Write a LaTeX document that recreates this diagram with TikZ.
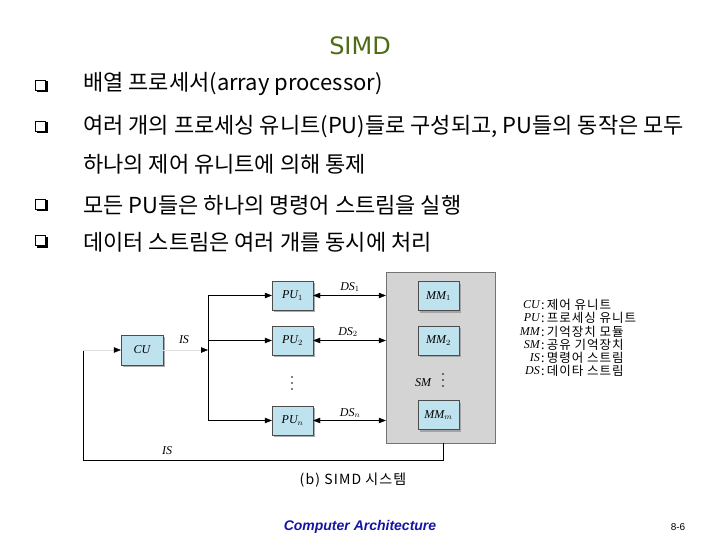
\documentclass[tikz,border=0pt]{standalone}
\usepackage{fontspec}
\setmainfont{Liberation Serif}
\newfontfamily\krfont{Noto Sans CJK KR}
\newfontfamily\krwide[LetterSpace=8]{Noto Sans CJK KR}
\newfontfamily\titlefont{DejaVu Sans}
\newfontfamily\footfont{Liberation Sans}
\usetikzlibrary{arrows.meta, shadows}

\definecolor{unitblue}{RGB}{190,227,238}
\definecolor{smgray}{RGB}{212,212,212}
\definecolor{titlegreen}{RGB}{78,108,22}
\definecolor{footblue}{RGB}{20,20,165}

\begin{document}
\begin{tikzpicture}[x=1pt, y=-1pt,
    % Define styles for reusable components
    item/.style={anchor=west, inner sep=0pt, font=\krfont\fontsize{22}{26}\selectfont},
    unit/.style={draw=black!70, fill=unitblue, minimum width=41pt, minimum height=29pt, inner sep=0pt,
        drop shadow={shadow xshift=2pt, shadow yshift=-2pt, fill=black!40, opacity=0.8},
        font=\itshape\fontsize{12}{14}\selectfont},
    smbox/.style={draw=black!55, fill=smgray, minimum width=109pt, minimum height=171pt, inner sep=0pt},
    lbl/.style={font=\itshape\fontsize{12}{14}\selectfont, inner sep=1pt},
    arr/.style={-{Triangle[length=7pt, width=5.5pt]}, thin},
    dblarr/.style={{Triangle[length=7pt, width=5.5pt]}-{Triangle[length=7pt, width=5.5pt]}, thin},
    faintarr/.style={-{Triangle[length=7pt, width=5.5pt, color=black]}, draw=black!12, thin},
    legkey/.style={anchor=east, inner sep=0pt, font=\itshape\fontsize{12}{14}\selectfont},
    legtxt/.style={anchor=west, inner sep=0pt, font=\krwide\fontsize{12.5}{14}\selectfont}
]

	\tikzset{
    	qbox/.pic={
    	    % Shadowed square bullet
    	    \draw[semithick] (-6,-6) rectangle (4.5,4.5);
    	    \fill (-4.5,4.5) rectangle (6.5,6.5);
    	    \fill (4.5,-4.5) rectangle (6.5,6.5);
    	},
    	threedots/.pic={
    	    % Vertical ellipsis
    	    \foreach \dy in {-6,0,6} \fill (0,\dy) circle (0.9);
    	}
	}

    \fill[white] (0,0) rectangle (720,540);
    \useasboundingbox (0,0) rectangle (720,540);

    % --- TITLE ---
    \node[font=\titlefont\fontsize{24}{28}\selectfont, text=titlegreen] (title) at (360,46) {SIMD};

    % --- BULLETS ---
    \path (41,86) pic {qbox};
    \node[item] (line1) at (83,84) {배열 프로세서(array processor)};
    \path (41,127) pic {qbox};
    \node[item] (line2) at (83,127) {여러 개의 프로세싱 유니트(PU)들로 구성되고, PU들의 동작은 모두};
    \node[item] (line2b) at (83,164) {하나의 제어 유니트에 의해 통제};
    \path (41,205) pic {qbox};
    \node[item] (line3) at (83,205) {모든 PU들은 하나의 명령어 스트림을 실행};
    \path (41,241) pic {qbox};
    \node[item] (line4) at (83,242) {데이터 스트림은 여러 개를 동시에 처리};

    % --- SHARED MEMORY ---
    \node[smbox] (sm) at (440.5,357.5) {};
    \node[unit] (mm1) at (438.5,296) {MM$_1$};
    \node[unit] (mm2) at (438.5,340.5) {MM$_2$};
    \node[unit] (mmm) at (438.5,415) {MM$_m$};
    \node[lbl] (smlabel) at (423,383) {SM};
    \path (443,380) pic {threedots};

    % --- CONTROL UNIT AND PUs ---
    \node[unit, minimum width=42pt, minimum height=30pt] (cu) at (142,350) {CU};
    \node[unit] (pu1) at (292.5,295.5) {PU$_1$};
    \node[unit] (pu2) at (292.5,340.5) {PU$_2$};
    \node[unit] (pun) at (292.5,420.5) {PU$_n$};
    \path (292,383) pic {threedots};

    % Instruction stream bus
    \coordinate (bustop) at (208,295.5);
    \coordinate (busmid) at (208,340.5);
    \coordinate (busbot) at (208,420.5);
    \coordinate (busin) at (208,350);
    \draw[thin] (bustop) -- (busbot);
    \draw[arr] (bustop) -- (pu1);
    \draw[arr] (busmid) -- (pu2);
    \draw[arr] (busbot) -- (pun);
    \draw[faintarr] (cu) -- (busin);
    \node[lbl] (is1) at (184,340) {IS};

    % Data streams
    \draw[dblarr] (pu1) -- (pu1 -| sm.west);
    \draw[dblarr] (pu2) -- (pu2 -| sm.west);
    \draw[dblarr] (pun) -- (pun -| sm.west);
    \node[lbl] (ds1) at (350,287) {DS$_1$};
    \node[lbl] (ds2) at (348,332) {DS$_2$};
    \node[lbl] (dsn) at (350,413) {DS$_n$};

    % Feedback from shared memory to CU
    \coordinate (fbtop) at (83,350);
    \coordinate (fbbot) at (83,460);
    \coordinate (fbend) at (443,460);
    \draw[thin] (fbtop) -- (fbbot) -- (fbend) -- (fbend |- sm.south);
    \draw[faintarr] (fbtop) -- (cu);
    \node[lbl] (is2) at (167,451) {IS};

    % Caption
    \node[font=\krwide\fontsize{14}{16}\selectfont] (caption) at (353,480) {(b) SIMD 시스템};

    % --- LEGEND ---
    \node[legkey] (kcu) at (540,305) {CU};
    \node[legtxt] (tcu) at (541,305) {:\,제어 유니트};
    \node[legkey] (kpu) at (540,318) {PU};
    \node[legtxt] (tpu) at (541,318) {:\,프로세싱 유니트};
    \node[legkey] (kmm) at (540,332) {MM};
    \node[legtxt] (tmm) at (541,332) {:\,기억장치 모듈};
    \node[legkey] (ksm) at (540,345) {SM};
    \node[legtxt] (tsm) at (541,345) {:\,공유 기억장치};
    \node[legkey] (kis) at (540,358) {IS};
    \node[legtxt] (tis) at (541,358) {:\,명령어 스트림};
    \node[legkey] (kds) at (540,371) {DS};
    \node[legtxt] (tds) at (541,371) {:\,데이타 스트림};

    % --- FOOTER ---
    \node[font=\footfont\bfseries\itshape\fontsize{14}{16}\selectfont, text=footblue] (foot) at (360,527) {Computer Architecture};
    \node[font=\footfont\fontsize{10}{12}\selectfont] (page) at (678,527) {8-6};

\end{tikzpicture}
\end{document}
